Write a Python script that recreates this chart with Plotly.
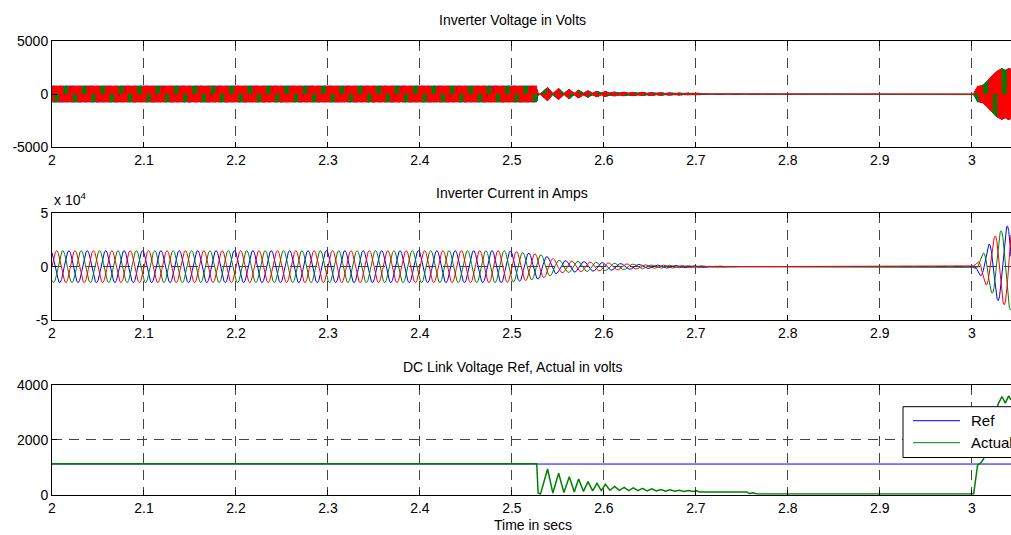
import numpy as np
import plotly.graph_objects as go

# ---------------- data ----------------
x_range = [2.0, 3.0426]
x_tick_vals = [2.0, 2.1, 2.2, 2.3, 2.4, 2.5, 2.6, 2.7, 2.8, 2.9, 3.0]
x_tick_text = ["2", "2.1", "2.2", "2.3", "2.4", "2.5", "2.6", "2.7", "2.8", "2.9", "3"]

titles = ["Inverter Voltage in Volts", "Inverter Current in Amps",
          "DC Link Voltage Ref, Actual in volts"]
x_label = "Time in secs"

# panel 3: DC link voltage
dc_ref_t = [2.0, 3.0426]
dc_ref_v = [1115, 1115]
dc_act_t = [2.0, 2.527, 2.5285, 2.531, 2.5388, 2.5445, 2.5508, 2.5565, 2.5624, 2.5678,
            2.5725, 2.5778, 2.5827, 2.5878, 2.5925, 2.5972, 2.6015, 2.6066, 2.6117, 2.6168,
            2.622, 2.627, 2.632, 2.637, 2.642, 2.647, 2.652, 2.657, 2.662, 2.667,
            2.672, 2.677, 2.682, 2.687, 2.692, 2.697, 2.701, 2.704, 2.7556, 2.758,
            2.7625, 2.766, 3.002, 3.0063, 3.0095, 3.0128, 3.016, 3.021, 3.026, 3.0291,
            3.0328, 3.0364, 3.040, 3.0426]
dc_act_v = [1130, 1130, 60, 20, 935, 60, 780, 80, 655, 100,
            570, 120, 475, 140, 415, 150, 380, 160, 300, 160,
            270, 150, 250, 145, 230, 140, 210, 135, 190, 130,
            175, 125, 160, 120, 150, 115, 140, 100, 100, 40,
            70, 30, 30, 1080, 1150, 1300, 1700, 2400, 3050, 3330,
            3570, 3330, 3590, 3450]

# panel 2: current amplitude envelope (A), 50 Hz three-phase
cur_env_t = [2.0, 2.49, 2.50, 2.51, 2.52, 2.53, 2.54, 2.55, 2.57, 2.60, 2.62, 2.65,
             2.70, 2.743, 2.745, 3.0, 3.005, 3.016, 3.027, 3.034, 3.0426]
cur_env_a = [15000, 15000, 14500, 13500, 12500, 11500, 9000, 6000, 5000, 3700, 2800, 1600,
             800, 400, 0, 0, 3000, 18000, 31000, 35000, 41000]
line_freq_hz = 50
phase_deg = {"blue": 120, "green": -120, "red": 0}
phase_color = {"blue": "#0000FF", "green": "#008000", "red": "#FF0000"}

# panel 1: inverter PWM voltage, band half-height follows DC link voltage
volt_gain = 0.67
volt_on_windows = [[2.0, 2.705], [3.0, 3.0426]]
pwm_carrier_hz = 2000
mod_index = 1.55

# ---------------- build signals ----------------
def gate(t):
    on = np.zeros_like(t, dtype=bool)
    for a, b in volt_on_windows:
        on |= (t >= a) & (t <= b)
    return on

Tc = 1.0 / pwm_carrier_hz
n_per = int(np.ceil((x_range[1] - x_range[0]) / Tc))
ts = x_range[0] + np.arange(n_per) * Tc
tcen = ts + Tc / 2
amp_v = volt_gain * np.interp(tcen, dc_act_t, dc_act_v) * gate(tcen)

def pwm_phase(phi):
    s = mod_index * np.sin(2 * np.pi * line_freq_hz * tcen + np.deg2rad(phi))
    hi = amp_v.copy()
    lo = -amp_v.copy()
    d = np.clip((1 + s) / 2, 0, 1)
    sat_p = s > 1
    sat_n = s < -1
    lo[sat_p] = 0
    hi[sat_n] = 0
    d[sat_p | sat_n] = 0.5
    t_on = ts + (1 - d) / 2 * Tc
    t_off = ts + (1 + d) / 2 * Tc
    tx = np.stack([ts, t_on, t_on, t_off, t_off, ts + Tc], axis=1).ravel()
    vy = np.stack([lo, lo, hi, hi, lo, lo], axis=1).ravel()
    return tx, vy

t_cur = np.arange(x_range[0], x_range[1] + 1e-9, 0.0002)
env = np.interp(t_cur, cur_env_t, cur_env_a)

fig = go.Figure()
for name in ["blue", "green", "red"]:
    tx, vy = pwm_phase(phase_deg[name])
    fig.add_trace(go.Scatter(x=tx, y=vy, mode="lines", xaxis="x", yaxis="y",
                             line=dict(color=phase_color[name], width=1),
                             showlegend=False, hoverinfo="skip"))
for name in ["blue", "green", "red"]:
    i = env * np.sin(2 * np.pi * line_freq_hz * t_cur + np.deg2rad(phase_deg[name]))
    fig.add_trace(go.Scatter(x=t_cur, y=i, mode="lines", xaxis="x2", yaxis="y2",
                             line=dict(color=phase_color[name], width=1),
                             showlegend=False, hoverinfo="skip"))
fig.add_trace(go.Scatter(x=dc_ref_t, y=dc_ref_v, mode="lines", name="Ref", xaxis="x3", yaxis="y3",
                         line=dict(color="#0000FF", width=1), showlegend=False))
fig.add_trace(go.Scatter(x=dc_act_t, y=dc_act_v, mode="lines", name="Actual", xaxis="x3", yaxis="y3",
                         line=dict(color="#008000", width=1.5), showlegend=False))

# ---------------- layout ----------------
W, H = 1011, 535
L = 52
PW = W - L
FONT = "Liberation Sans, Arial, Helvetica, sans-serif"

def py(px):  # pixel y -> paper y
    return 1 - px / H

def pxx(px):  # pixel x -> paper x
    return (px - L) / PW

grid = dict(showgrid=True, gridcolor="#444444", gridwidth=1, griddash="10px,7px")
common_x = dict(range=x_range, tickvals=x_tick_vals, ticktext=x_tick_text, ticks="inside",
                ticklen=5, tickcolor="black", showline=True, linecolor="black", linewidth=1,
                mirror="ticks", zeroline=False, automargin=False,
                tickfont=dict(family=FONT, size=14, color="black"), **grid)
common_y = dict(ticks="inside", ticklen=5, tickcolor="black", showline=True, linecolor="black",
                linewidth=1, mirror=False, zeroline=False, automargin=False,
                tickfont=dict(family=FONT, size=14, color="black"), **grid)

doms = [(py(147.3), py(40.7)), (py(320.0), py(213.3)), (py(494.7), py(384.7))]

fig.update_layout(
    width=W, height=H, margin=dict(l=L, r=0, t=0, b=0, pad=0, autoexpand=False),
    paper_bgcolor="white", plot_bgcolor="white", showlegend=False,
    font=dict(family=FONT, size=14, color="black"),
    xaxis=dict(anchor="y", **common_x),
    xaxis2=dict(anchor="y2", **common_x),
    xaxis3=dict(anchor="y3", **common_x),
    yaxis=dict(domain=doms[0], range=[-5000, 5000], tickvals=[-5000, 0, 5000],
               ticktext=["-5000", "0", "5000"], anchor="x", **common_y),
    yaxis2=dict(domain=doms[1], range=[-50000, 50000], tickvals=[-50000, 0, 50000],
                ticktext=["-5", "0", "5"], anchor="x2", **common_y),
    yaxis3=dict(domain=doms[2], range=[0, 4000], tickvals=[0, 2000, 4000],
                ticktext=["0", "2000", "4000"], anchor="x3", **common_y),
)

ann = []
for txt, ypx in zip(titles, [20, 193, 367]):
    ann.append(dict(text=txt, x=pxx(512), y=py(ypx), xref="paper", yref="paper",
                    xanchor="center", yanchor="middle", showarrow=False,
                    font=dict(family=FONT, size=14, color="black")))
ann.append(dict(text=x_label, x=pxx(533), y=py(525), xref="paper", yref="paper",
                xanchor="center", yanchor="middle", showarrow=False,
                font=dict(family=FONT, size=14, color="black")))
ann.append(dict(text="x 10<sup>4</sup>", x=pxx(52), y=py(199), xref="paper", yref="paper",
                xanchor="left", yanchor="middle", showarrow=False,
                font=dict(family=FONT, size=14, color="black")))
# legend (drawn so that it runs past the right edge as in the reference)
ann.append(dict(text="Ref", x=pxx(969), y=py(420.7), xref="paper", yref="paper",
                xanchor="left", yanchor="middle", showarrow=False,
                font=dict(family=FONT, size=15, color="black")))
ann.append(dict(text="Actual", x=pxx(969), y=py(442.7), xref="paper", yref="paper",
                xanchor="left", yanchor="middle", showarrow=False,
                font=dict(family=FONT, size=15, color="black")))
fig.update_layout(annotations=ann)

shapes = [
    dict(type="rect", xref="paper", yref="paper", x0=pxx(903), x1=pxx(1030),
         y0=py(457.5), y1=py(406.7), fillcolor="white", line=dict(color="black", width=1),
         layer="above"),
    dict(type="line", xref="paper", yref="paper", x0=pxx(913), x1=pxx(960),
         y0=py(420.7), y1=py(420.7), line=dict(color="#0000FF", width=1), layer="above"),
    dict(type="line", xref="paper", yref="paper", x0=pxx(913), x1=pxx(960),
         y0=py(442.7), y1=py(442.7), line=dict(color="#008000", width=1), layer="above"),
]
fig.update_layout(shapes=shapes)

fig.write_html("out.html")
